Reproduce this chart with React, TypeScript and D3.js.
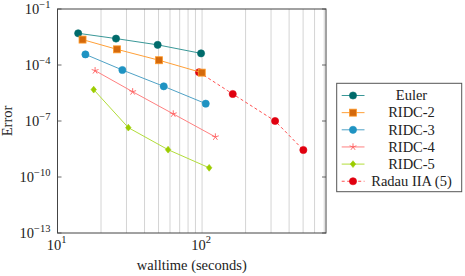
import React from 'react';
import * as d3 from 'd3';

// walltime (s) / error pairs
const eulerTime = [13.9, 25.4, 49.3, 98.4];
const eulerError = [5.0e-3, 2.6e-3, 1.2e-3, 4.2e-4];
const ridc2Time = [14.9, 25.8, 50.4, 99.5];
const ridc2Error = [2.3e-3, 6.9e-4, 1.8e-4, 3.9e-5];
const ridc3Time = [15.6, 28.1, 54.3, 106];
const ridc3Error = [3.7e-4, 5.4e-5, 7.2e-6, 8.5e-7];
const ridc4Time = [18.2, 33.1, 63.2, 123.6];
const ridc4Error = [5.0e-5, 3.7e-6, 2.4e-7, 1.4e-8];
const ridc5Time = [17.8, 30.9, 58.2, 112];
const ridc5Error = [4.8e-6, 4.4e-8, 2.9e-9, 3.1e-10];
const radauTime = [95.3, 163, 320, 502];
const radauError = [4.1e-5, 2.8e-6, 1.0e-7, 2.8e-9];

const seriesNames = ['Euler', 'RIDC-2', 'RIDC-3', 'RIDC-4', 'RIDC-5', 'Radau IIA (5)'];
const yTickExps = [-1, -4, -7, -10, -13];
const xTickExps = [1, 2];

const W = 465;
const H = 276;
const margin = { top: 9, right: 139, bottom: 43, left: 57.5 };
const FONT = 'Liberation Serif, Times New Roman, serif';
const FS = 14.5;

type Mark = 'circle' | 'square' | 'star' | 'diamond';
interface Style { line: string; fill: string; stroke: string; mark: Mark; dash?: string; }

const styles: Style[] = [
  { line: '#3a9898', fill: '#006b6b', stroke: '#006b6b', mark: 'circle' },
  { line: '#ffa038', fill: '#d4690c', stroke: '#ff9a2a', mark: 'square' },
  { line: '#4fa2c6', fill: '#1f93c2', stroke: '#1f93c2', mark: 'circle' },
  { line: '#ff8080', fill: 'none', stroke: '#ff6060', mark: 'star' },
  { line: '#b2dd3a', fill: '#9ccc00', stroke: '#9ccc00', mark: 'diamond' },
  { line: '#ff5050', fill: '#e0000f', stroke: '#e0000f', mark: 'circle', dash: '3,2.5' },
];

const times = [eulerTime, ridc2Time, ridc3Time, ridc4Time, ridc5Time, radauTime];
const errors = [eulerError, ridc2Error, ridc3Error, ridc4Error, ridc5Error, radauError];

const Marker = ({ x, y, s }: { x: number; y: number; s: Style }) => {
  if (s.mark === 'circle') return <circle cx={x} cy={y} r={3.6} fill={s.fill} stroke={s.stroke} strokeWidth={0.6} />;
  if (s.mark === 'square') return <rect x={x - 3.5} y={y - 3.5} width={7} height={7} fill={s.fill} stroke={s.stroke} strokeWidth={0.8} />;
  if (s.mark === 'diamond') {
    const r = 3.4;
    return <path d={`M${x},${y - r}L${x + r * 0.8},${y}L${x},${y + r}L${x - r * 0.8},${y}Z`} fill={s.fill} stroke={s.stroke} strokeWidth={0.6} />;
  }
  // pgfplots "star": five spokes
  const r = 3.6;
  const d = d3.range(5).map(i => {
    const a = -Math.PI / 2 + (i * 2 * Math.PI) / 5;
    return `M${x},${y}L${x + r * Math.cos(a)},${y + r * Math.sin(a)}`;
  }).join('');
  return <path d={d} fill="none" stroke={s.stroke} strokeWidth={0.9} />;
};

const Pow = ({ e }: { e: number }) => (
  <>
    <tspan>10</tspan>
    <tspan dy={-6.5} fontSize={10.5}>{e < 0 ? `\u2212${-e}` : `${e}`}</tspan>
  </>
);

export default function App() {
  const x = d3.scaleLog().domain([10, 720]).range([margin.left, W - margin.right]);
  const y = d3.scaleLog().domain([1e-13, 1e-1]).range([H - margin.bottom, margin.top]);
  const x0 = margin.left, x1 = W - margin.right, y0 = H - margin.bottom, y1 = margin.top;

  const gridVals = d3.range(1, 3).flatMap(p => d3.range(1, 10).map(k => k * Math.pow(10, p))).filter(v => v <= 720);

  const line = d3.line<number[]>().x(d => x(d[0])).y(d => y(d[1]));

  const legend = { x: 336.7, y: 83.3, w: 125, h: 108.4, row: 17.15, first: 95.5 };
  const drawOrder = [5, 0, 1, 2, 3, 4];

  return (
    <svg width={W} height={H} style={{ position: 'absolute', left: 0, top: 0 }} fontFamily={FONT}>
      <rect width={W} height={H} fill="#fff" />
      {gridVals.map(v => (
        <line key={v} x1={x(v)} x2={x(v)} y1={y0} y2={y1} stroke="#d4d4d4" strokeWidth={1} />
      ))}
      <g fill="#222">
        {yTickExps.map(e => (
          <g key={e}>
            <line x1={x0} x2={x0 + 4} y1={y(Math.pow(10, e))} y2={y(Math.pow(10, e))} stroke="#444" strokeWidth={0.8} />
            <line x1={x1} x2={x1 - 4} y1={y(Math.pow(10, e))} y2={y(Math.pow(10, e))} stroke="#444" strokeWidth={0.8} />
            <text x={x0 - 7} y={y(Math.pow(10, e)) + 5} textAnchor="end" fontSize={FS}>
              <Pow e={e} />
            </text>
          </g>
        ))}
        {xTickExps.map(e => (
          <text key={e} x={x(Math.pow(10, e)) - 1} y={y0 + 16.5} textAnchor="middle" fontSize={FS}>
            <Pow e={e} />
          </text>
        ))}
      </g>
      <rect x={x0} y={y1} width={x1 - x0} height={y0 - y1} fill="none" stroke="#444" strokeWidth={1} />

      {drawOrder.map(i => {
        const pts = times[i].map((t, j) => [t, errors[i][j]]);
        const s = styles[i];
        return (
          <g key={i}>
            <path d={line(pts) || ''} fill="none" stroke={s.line} strokeWidth={1} strokeDasharray={s.dash} />
            {pts.map((p, j) => <Marker key={j} x={x(p[0])} y={y(p[1])} s={s} />)}
          </g>
        );
      })}

      <text x={(x0 + x1) / 2} y={269.5} textAnchor="middle" fontSize={FS} fill="#222">walltime (seconds)</text>
      <text transform={`translate(12,${(y0 + y1) / 2}) rotate(-90)`} textAnchor="middle" fontSize={FS} fill="#222">Error</text>

      <rect x={legend.x} y={legend.y} width={legend.w} height={legend.h} fill="#fff" stroke="#555" strokeWidth={1} />
      {seriesNames.map((name, i) => {
        const ry = legend.first + i * legend.row;
        const s = styles[i];
        return (
          <g key={name}>
            <line x1={341.7} x2={364.5} y1={ry} y2={ry} stroke={s.line} strokeWidth={1} strokeDasharray={s.dash} />
            <Marker x={353} y={ry} s={s} />
            <text x={411.5} y={ry + 4.8} textAnchor="middle" fontSize={FS} fill="#222">{name}</text>
          </g>
        );
      })}
    </svg>
  );
}
